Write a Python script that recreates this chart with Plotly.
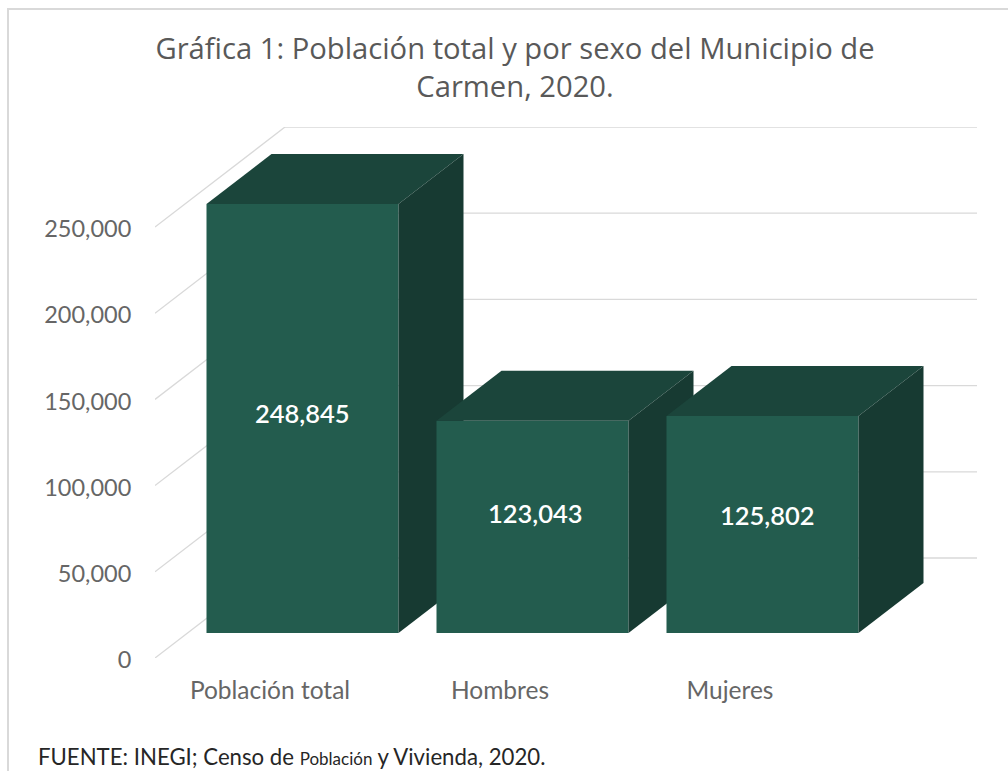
import plotly.graph_objects as go

categories = ["Población total", "Hombres", "Mujeres"]
values = [248845, 123043, 125802]
tick_values = [0, 50000, 100000, 150000, 200000, 250000]
title_text = "Gráfica 1: Población total y por sexo del Municipio de<br>Carmen, 2020."
source_text = 'FUENTE: INEGI; Censo de <span style="font-size:17px">Población</span> y Vivienda, 2020.'

W, H = 1008, 771
M_L, M_R, M_T, M_B = 155, 31, 127, 113
FONT = "Lato"
GREY = "#595959"
FRONT, TOP, SIDE = "#235C4E", "#1B453B", "#173A32"
GRID = "#D9D9D9"

# oblique projection, in axis units
SLOT_PX = 230
PX_PER_UNIT = 1.724 / 1000
DEPTH_X = 130 / SLOT_PX
DEPTH_Y = 100 / PX_PER_UNIT
X_RANGE = [-0.5, -0.5 + (W - M_L - M_R) / SLOT_PX]
Y_RANGE = [0, (H - M_T - M_B) / PX_PER_UNIT]
BAR_W = 192 / SLOT_PX
D0, D1 = 0.25, 0.75

fig = go.Figure()

for i, (cat, val) in enumerate(zip(categories, values)):
    suffix = "" if i == 0 else str(i + 1)
    xa, ya = "x" + suffix, "y" + suffix
    cx = i + D0 * DEPTH_X
    base = D0 * DEPTH_Y
    dx = (D1 - D0) * DEPTH_X
    dy = (D1 - D0) * DEPTH_Y
    l, r = cx - BAR_W / 2, cx + BAR_W / 2
    t = base + val
    fig.add_trace(go.Bar(x=[cx], y=[val], base=[base], width=[BAR_W], name=cat,
                         marker=dict(color=FRONT, line=dict(width=0)),
                         xaxis=xa, yaxis=ya, showlegend=False, hoverinfo="skip"))
    fig.add_trace(go.Scatter(x=[l, r, r + dx, l + dx, l], y=[t, t, t + dy, t + dy, t],
                             fill="toself", fillcolor=TOP, mode="lines", line=dict(width=0),
                             xaxis=xa, yaxis=ya, showlegend=False, hoverinfo="skip"))
    fig.add_trace(go.Scatter(x=[r, r + dx, r + dx, r, r], y=[base, base + dy, t + dy, t, base],
                             fill="toself", fillcolor=SIDE, mode="lines", line=dict(width=0),
                             xaxis=xa, yaxis=ya, showlegend=False, hoverinfo="skip"))

# back wall and floor guides
shapes = []
for v in tick_values:
    shapes.append(dict(type="line", xref="x", yref="y", layer="below",
                       x0=X_RANGE[0], y0=v, x1=X_RANGE[0] + DEPTH_X, y1=v + DEPTH_Y,
                       line=dict(color=GRID, width=1.3)))
    shapes.append(dict(type="line", xref="x", yref="y", layer="below",
                       x0=X_RANGE[0] + DEPTH_X, y0=v + DEPTH_Y, x1=X_RANGE[1], y1=v + DEPTH_Y,
                       line=dict(color=GRID, width=1.3)))
# chart frame
def px(x): return (x - M_L) / (W - M_L - M_R)
def py(y): return (H - M_B - y) / (H - M_T - M_B)
shapes.append(dict(type="path", xref="paper", yref="paper", layer="below",
                   path=f"M {px(8)} {py(771)} L {px(8)} {py(9)} L {px(1008)} {py(9)}",
                   line=dict(color=GRID, width=2)))

# value labels
shifts = [(0, 6), (3, 14), (5, 10)]
annotations = []
for i, val in enumerate(values):
    annotations.append(dict(x=i + D0 * DEPTH_X, y=D0 * DEPTH_Y + val / 2, xref="x", yref="y",
                            text=f"{val:,}", showarrow=False, xshift=shifts[i][0], yshift=shifts[i][1],
                            font=dict(family=FONT, size=25.5, color="white", weight=600)))
annotations.append(dict(x=px(36), y=py(756), xref="paper", yref="paper", xanchor="left", yanchor="middle",
                        text=source_text, showarrow=False, font=dict(family=FONT, size=22.2, color="#262626")))

fig.update_layout(
    width=W, height=H, margin=dict(l=M_L, r=M_R, t=M_T, b=M_B),
    paper_bgcolor="white", plot_bgcolor="white", showlegend=False, barmode="overlay",
    title=dict(text=title_text, x=515 / W, xanchor="center", y=1 - 59 / H, yanchor="middle",
               font=dict(family="Open Sans", size=29.2, color=GREY)),
    xaxis=dict(range=X_RANGE, tickmode="array", tickvals=[0, 1, 2], ticktext=categories,
               showgrid=False, zeroline=False, showline=False, ticks="outside", ticklen=11,
               tickcolor="rgba(0,0,0,0)", tickfont=dict(family=FONT, size=24.5, color="#666666")),
    yaxis=dict(range=Y_RANGE, tickmode="array", tickvals=tick_values, tickformat=",",
               showgrid=False, zeroline=False, showline=False, ticks="outside", ticklen=18,
               ticklabelshift=2,
               tickcolor="rgba(0,0,0,0)", tickfont=dict(family=FONT, size=23.5, color="#666666")),
    xaxis2=dict(range=X_RANGE, overlaying="x", visible=False),
    yaxis2=dict(range=Y_RANGE, overlaying="y", visible=False),
    xaxis3=dict(range=X_RANGE, overlaying="x", visible=False),
    yaxis3=dict(range=Y_RANGE, overlaying="y", visible=False),
    shapes=shapes, annotations=annotations,
)

fig.write_html("out.html", post_script="document.body.style.margin='0';",
               config=dict(displayModeBar=False))
